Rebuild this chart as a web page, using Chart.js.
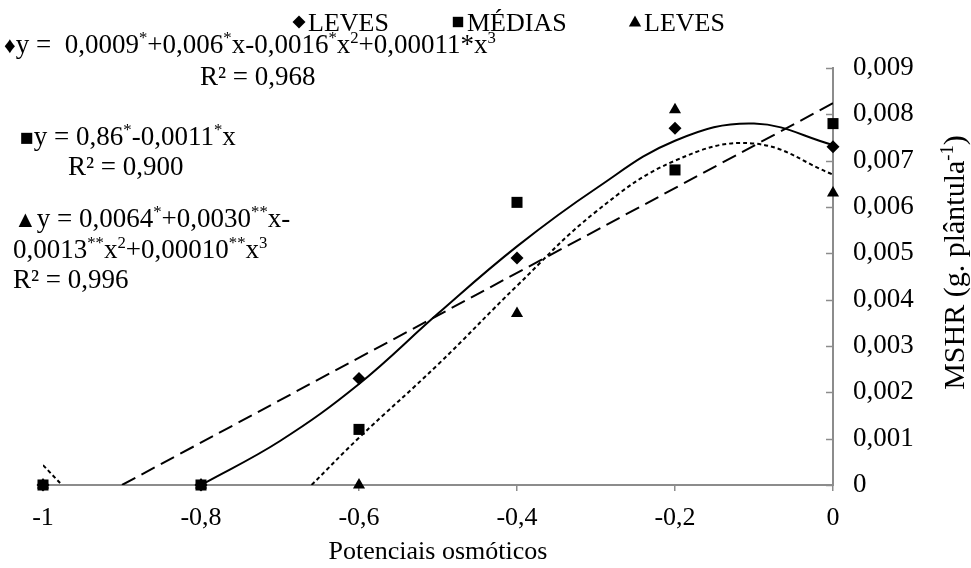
<!DOCTYPE html>
<html><head><meta charset="utf-8">
<script src="https://cdn.jsdelivr.net/npm/chart.js@4.4.1/dist/chart.umd.min.js"></script>
<style>html,body{margin:0;padding:0;background:#fff}#wrap{width:971px;height:568px}</style>
</head><body><div id="wrap"><canvas id="c" width="971" height="568"></canvas></div>
<script>
// ---- data ----
const seriesNames = ['LEVES', 'MÉDIAS', 'LEVES'];
const xCategories = [-1, -0.8, -0.6, -0.4, -0.2, 0];
const levesA = [0, 0, 0.0023, 0.0049, 0.0077, 0.0073];
const medias = [0, 0, 0.0012, 0.0061, 0.0068, 0.0078];
const levesB = [0, 0, 0, 0.0037, 0.0081, 0.0063];

// trend curves
const fitLevesAX = [-0.8, -0.7, -0.6, -0.5, -0.4, -0.3, -0.2, -0.1, 0];
const fitLevesAY = [0, 0.00095, 0.00218, 0.0037, 0.00515, 0.0064, 0.00743, 0.0078, 0.00734];
const fitMediasX = [-0.9, 0];
const fitMediasY = [0, 0.00824];
const fitLevesBX = [-1, -0.976, -0.8, -0.66, -0.6, -0.5, -0.4, -0.3, -0.2, -0.1, 0];
const fitLevesBY = [0.00043, 0, null, 0, 0.00102, 0.0026, 0.0043, 0.0059, 0.0070, 0.00737, 0.0067];

const xTickValues = [-1, -0.8, -0.6, -0.4, -0.2, 0];
const xTickLabels = ['-1', '-0,8', '-0,6', '-0,4', '-0,2', '0'];
const yTickValues = [0, 0.001, 0.002, 0.003, 0.004, 0.005, 0.006, 0.007, 0.008, 0.009];
const yTickLabels = ['0', '0,001', '0,002', '0,003', '0,004', '0,005', '0,006', '0,007', '0,008', '0,009'];

const xTitle = 'Potenciais osmóticos';
const yTitle = [{t: 'MSHR (g. plântula'}, {t: '-1', sup: true}, {t: ')'}];
const equations = [
  {x: 4, y: 53, segs: [{t: '♦', sym: true}, {t: 'y =  0,0009'}, {t: '*', sup: true}, {t: '+0,006'}, {t: '*', sup: true}, {t: 'x-0,0016'}, {t: '*', sup: true}, {t: 'x'}, {t: '2', sup: true}, {t: '+0,00011*x'}, {t: '3', sup: true}]},
  {x: 200, y: 85, segs: [{t: 'R² = 0,968'}]},
  {x: 20, y: 145, segs: [{t: '■', sym: true}, {t: 'y = 0,86'}, {t: '*', sup: true}, {t: '-0,0011'}, {t: '*', sup: true}, {t: 'x'}]},
  {x: 68, y: 175, segs: [{t: 'R² = 0,900'}]},
  {x: 14, y: 227, segs: [{t: '▲', sym: true}, {t: 'y = 0,0064'}, {t: '*', sup: true}, {t: '+0,0030'}, {t: '**', sup: true}, {t: 'x-'}]},
  {x: 13, y: 258, segs: [{t: '0,0013'}, {t: '**', sup: true}, {t: 'x'}, {t: '2', sup: true}, {t: '+0,00010'}, {t: '**', sup: true}, {t: 'x'}, {t: '3', sup: true}]},
  {x: 13, y: 288, segs: [{t: 'R² = 0,996'}]}
];

const FONT = '"Liberation Serif", "Times New Roman", serif';
const FS = 26;
const EQ_FS = 27;
const YT_FS = 30;
const AXIS_GRAY = '#8c8c8c';

function pts(xs, ys) { return xs.map((x, i) => ({x: x, y: ys[i]})); }

function segSize(s, size) { return s.sup ? size * 0.62 : (s.sym ? size * 0.85 : size); }
function richWidth(ctx, segs, size) {
  let w = 0;
  segs.forEach(s => {
    ctx.font = segSize(s, size) + 'px ' + FONT;
    w += ctx.measureText(s.t).width;
  });
  return w;
}
function drawRich(ctx, x, y, segs, size) {
  ctx.textBaseline = 'alphabetic';
  ctx.textAlign = 'left';
  segs.forEach(s => {
    ctx.font = segSize(s, size) + 'px ' + FONT;
    const dy = s.sup ? -size * 0.36 : 0;
    ctx.fillText(s.t, x, y + dy);
    x += ctx.measureText(s.t).width;
  });
}
function marker(ctx, style, x, y, r) {
  ctx.beginPath();
  if (style === 'rectRot') {
    ctx.moveTo(x - r, y); ctx.lineTo(x, y - r); ctx.lineTo(x + r, y); ctx.lineTo(x, y + r);
  } else if (style === 'rect') {
    ctx.rect(x - r * 0.8, y - r * 0.8, r * 1.6, r * 1.6);
  } else {
    ctx.moveTo(x, y - r); ctx.lineTo(x + r * 0.95, y + r * 0.7); ctx.lineTo(x - r * 0.95, y + r * 0.7);
  }
  ctx.closePath();
  ctx.fill();
}

const decor = {
  id: 'decor',
  beforeDraw(chart) {
    const ctx = chart.ctx;
    ctx.save();
    ctx.fillStyle = '#fff';
    ctx.fillRect(0, 0, chart.width, chart.height);
    ctx.restore();
  },
  afterDatasetsDraw(chart) {
    const ctx = chart.ctx;
    const ys = chart.scales.y;
    const xs = chart.scales.x;
    ctx.save();
    // inside tick marks on the vertical axis
    ctx.strokeStyle = AXIS_GRAY;
    ctx.lineWidth = 1.5;
    yTickValues.forEach(v => {
      const py = Math.round(ys.getPixelForValue(v)) + 0.5;
      ctx.beginPath();
      ctx.moveTo(ys.left - 7, py);
      ctx.lineTo(ys.left, py);
      ctx.stroke();
    });
    ctx.fillStyle = '#000';
    // legend
    const styles = ['rectRot', 'rect', 'triangle'];
    const legendX = [292, 451, 628];
    seriesNames.forEach((n, i) => {
      marker(ctx, styles[i], legendX[i] + 7, 22, 6.5);
      ctx.font = FS + 'px ' + FONT;
      ctx.textBaseline = 'alphabetic';
      ctx.textAlign = 'left';
      ctx.fillText(n, legendX[i] + 16, 31);
    });
    // equations
    equations.forEach(e => drawRich(ctx, e.x, e.y, e.segs, EQ_FS));
    // x title
    ctx.font = FS + 'px ' + FONT;
    ctx.textAlign = 'center';
    ctx.textBaseline = 'alphabetic';
    ctx.fillText(xTitle, (xs.left + xs.right) / 2, 559);
    // y title rotated
    const cy = (chart.chartArea.top + chart.chartArea.bottom) / 2 - 14;
    ctx.translate(964, cy);
    ctx.rotate(-Math.PI / 2);
    const w = richWidth(ctx, yTitle, YT_FS);
    drawRich(ctx, -w / 2, 0, yTitle, YT_FS);
    ctx.restore();
  }
};

const markerDs = (label, data, style, r) => ({
  label: label,
  data: pts(xCategories, data),
  showLine: false,
  pointStyle: style,
  pointRadius: r,
  pointHoverRadius: r,
  backgroundColor: '#000',
  borderColor: '#000',
  borderWidth: 0,
  clip: false
});
const lineDs = (label, xs, ys, dash) => ({
  label: label,
  data: pts(xs, ys),
  showLine: true,
  pointRadius: 0,
  borderColor: '#000',
  backgroundColor: '#000',
  borderWidth: 2,
  borderDash: dash,
  tension: 0.4,
  spanGaps: false,
  fill: false
});

new Chart(document.getElementById('c'), {
  type: 'scatter',
  data: {
    datasets: [
      markerDs(seriesNames[0], levesA, 'rectRot', 6.5),
      markerDs(seriesNames[1], medias, 'rect', 7.8),
      markerDs(seriesNames[2], levesB, 'triangle', 7),
      lineDs('fit1', fitLevesAX, fitLevesAY, []),
      lineDs('fit2', fitMediasX, fitMediasY, [15, 7]),
      lineDs('fit3', fitLevesBX, fitLevesBY, [4, 3])
    ]
  },
  options: {
    responsive: false,
    animation: false,
    devicePixelRatio: 1,
    layout: {padding: {left: 43, top: 68, right: 0, bottom: 0}},
    plugins: {legend: {display: false}, tooltip: {enabled: false}},
    scales: {
      x: {
        type: 'linear', min: -1, max: 0, position: 'bottom',
        afterBuildTicks: s => { s.ticks = xTickValues.map(v => ({value: v})); },
        afterFit: s => { s.height = 83; },
        ticks: {
          callback: v => xTickLabels[xTickValues.indexOf(v)],
          font: {family: FONT, size: FS}, color: '#000', padding: 12,
          maxRotation: 0, autoSkip: false
        },
        grid: {drawOnChartArea: false, drawTicks: true, tickLength: 6, color: AXIS_GRAY, lineWidth: 1.5},
        border: {color: AXIS_GRAY, width: 2}
      },
      y: {
        type: 'linear', min: 0, max: 0.009, position: 'right',
        afterBuildTicks: s => { s.ticks = yTickValues.map(v => ({value: v})); },
        afterFit: s => { s.width = 138; },
        ticks: {
          callback: v => yTickLabels[yTickValues.indexOf(v)],
          font: {family: FONT, size: 27}, color: '#000', padding: 20
        },
        grid: {display: false, drawTicks: false},
        border: {color: AXIS_GRAY, width: 2}
      }
    }
  },
  plugins: [decor]
});
</script></body></html>
